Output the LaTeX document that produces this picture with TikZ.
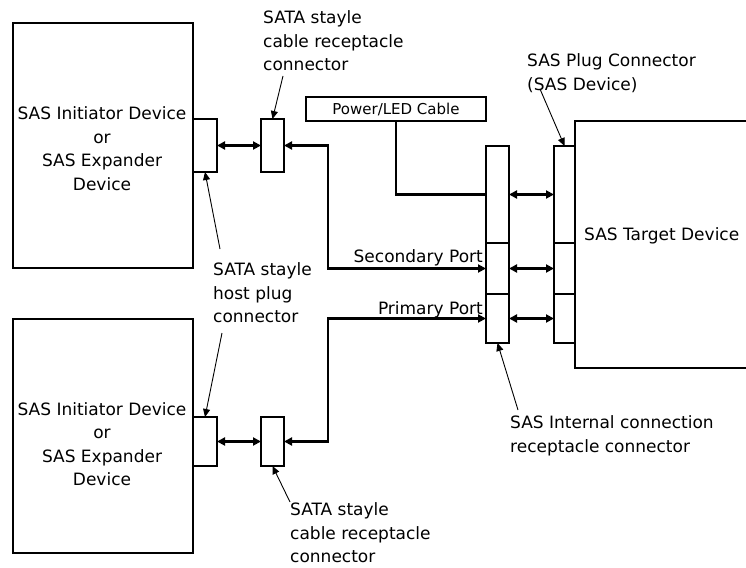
\documentclass[tikz,border=0pt]{standalone}
\usepackage{fontspec}
\setmainfont{DejaVu Sans}
\usetikzlibrary{arrows.meta}
\begin{document}
\begin{tikzpicture}[x=1pt,y=-1pt,
  blk/.style={draw, line width=2.5pt, rectangle, inner sep=0pt, outer sep=0pt},
  lbl/.style={font=\fontsize{17}{23.5}\selectfont, inner sep=0pt, align=left},
  clbl/.style={font=\fontsize{17}{23.5}\selectfont, inner sep=0pt, align=center},
  wire/.style={line width=2.5pt},
  dbl/.style={line width=2.5pt, {Triangle[length=8pt,width=8pt]}-{Triangle[length=8pt,width=8pt]}},
  lead/.style={line width=0.9pt, -{Triangle[length=8pt,width=7pt]}}
]
\useasboundingbox (0,0) rectangle (746,567);
\clip (0,0) rectangle (746,567);
% devices
\node[blk, minimum width=180, minimum height=245] (dev1) at (103,145.5) {};
\node[blk, minimum width=180, minimum height=234] (dev2) at (103,436) {};
\node[clbl] (dev1t) at (102,148.5) {SAS Initiator Device\\or\\SAS Expander\\Device};
\node[clbl] (dev2t) at (102,444) {SAS Initiator Device\\or\\SAS Expander\\Device};
% host plugs and cable receptacles
\node[blk, minimum width=24, minimum height=53] (host1) at (205,145.5) {};
\node[blk, minimum width=23, minimum height=53] (cab1) at (272.5,145.5) {};
\node[blk, minimum width=24, minimum height=49] (host2) at (205,441.5) {};
\node[blk, minimum width=23, minimum height=49] (cab2) at (272.5,441.5) {};
% power cable
\node[blk, minimum width=180, minimum height=24, font=\fontsize{15}{17}\selectfont] (power) at (396,109) {Power/LED Cable};
% target device
\node[blk, minimum width=225, minimum height=247] (target) at (687.5,244.5) {};
\node[lbl, anchor=base west] (targett) at (584,240) {SAS Target Device};
% internal receptacle
\node[blk, minimum width=23, minimum height=97] (rec1) at (497.5,194.5) {};
\node[blk, minimum width=23, minimum height=51] (rec2) at (497.5,268.5) {};
\node[blk, minimum width=23, minimum height=49] (rec3) at (497.5,318.5) {};
% plug
\node[blk, minimum width=21, minimum height=97] (plug1) at (564.5,194.5) {};
\node[blk, minimum width=21, minimum height=51] (plug2) at (564.5,268.5) {};
\node[blk, minimum width=21, minimum height=49] (plug3) at (564.5,318.5) {};
% double arrows
\draw[dbl] (host1.east) -- (cab1.west);
\draw[dbl] (host2.east) -- (cab2.west);
\draw[dbl] (rec1.east) -- (plug1.west);
\draw[dbl] (rec2.east) -- (plug2.west);
\draw[dbl] (rec3.east) -- (plug3.west);
% cables
\coordinate (sbend) at (328,268.5);
\coordinate (pbend) at (328,318.5);
\draw[dbl] (cab1.east) -| (sbend) -- (rec2.west);
\draw[dbl] (cab2.east) -| (pbend) -- (rec3.west);
\draw[wire] (power.south) |- (rec1.west);
\node[lbl, anchor=base east] (sec) at (483,262.5) {Secondary Port};
\node[lbl, anchor=base east] (pri) at (483,314.5) {Primary Port};
% labels
\node[lbl, anchor=west] (topcab) at (263,41) {SATA stayle\\cable receptacle\\connector};
\node[lbl, anchor=west] (hostl) at (213,293) {SATA stayle\\host plug\\connector};
\node[lbl, anchor=west] (botcab) at (290,533) {SATA stayle\\cable receptacle\\connector};
\node[lbl, anchor=west] (plugl) at (527,73) {SAS Plug Connector\\(SAS Device)};
\node[lbl, anchor=west] (intl) at (510,436) {SAS Internal connection\\receptacle connector};
% leaders
\coordinate (l1) at (283,76);
\coordinate (l2) at (220,249);
\coordinate (l3) at (222,333);
\coordinate (l4) at (540,89);
\coordinate (l5) at (518,410);
\coordinate (l6) at (290,502);
\draw[lead] (l1) -- (cab1.north);
\draw[lead] (l2) -- (host1.south);
\draw[lead] (l3) -- (host2.north);
\draw[lead] (l4) -- (plug1.north);
\draw[lead] (l5) -- (rec3.south);
\draw[lead] (l6) -- (cab2.south);
\end{tikzpicture}
\end{document}
